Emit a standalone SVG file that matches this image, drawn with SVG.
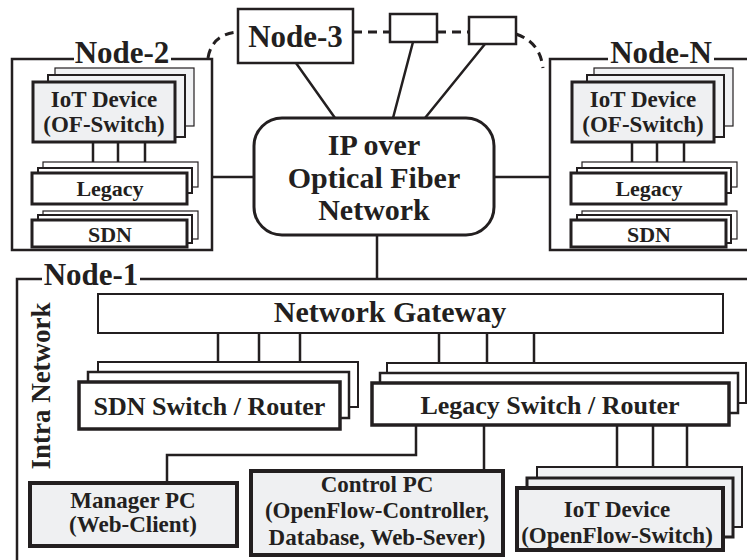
<svg xmlns="http://www.w3.org/2000/svg" width="747" height="560" viewBox="0 0 747 560">
<style>
.t{font-family:"Liberation Serif","Times New Roman",serif;font-weight:bold;fill:#231f20;text-anchor:middle}
.fr{fill:none;stroke:#231f20;stroke-width:2.5}
.ln{fill:none;stroke:#231f20;stroke-width:2.5}
.dash{fill:none;stroke:#231f20;stroke-width:3;stroke-dasharray:9 6}
.b1{fill:#fff;stroke:#231f20;stroke-width:1.2}
.b2{fill:#fff;stroke:#231f20;stroke-width:2}
.b3{fill:#fff;stroke:#231f20;stroke-width:3}
.g1{fill:#f1f2f4;stroke:#231f20;stroke-width:1.2}
.g2{fill:#f1f2f4;stroke:#231f20;stroke-width:2}
.g3{fill:#eff0f2;stroke:#231f20;stroke-width:3}
.g4{fill:#eff0f2;stroke:#231f20;stroke-width:4}
.w2{fill:#fff;stroke:#231f20;stroke-width:2}
.w25{fill:#fff;stroke:#231f20;stroke-width:2.5}
.w35{fill:#fff;stroke:#231f20;stroke-width:3.5}
</style>
<rect width="747" height="560" fill="#fff"/>

<g id="connectors">
  <path class="dash" d="M208,58 Q212,34 238,32"/>
  <path class="dash" d="M353,32 H390 M437,32 H469"/>
  <path class="dash" d="M516,34 Q540,42 543,68"/>
  <path class="ln" d="M296,63 L335,118 M413,42 L393,118 M485,44 L425,118"/>
  <path class="ln" d="M212,177 H254 M494,177 H550 M377,235 V279"/>
  <path class="ln" d="M93,142 V173 M118,142 V168 M145,142 V162"/>
  <path class="ln" d="M632,142 V173 M657,142 V168 M684,142 V162"/>
  <path class="ln" d="M218,333 V362 M259,333 V372 M300,333 V382 M439,333 V383 M487,333 V373 M534,333 V363"/>
  <path class="ln" d="M416,425 V455 H167 V483 M484,425 V471 M617,425 V488 M653,425 V478 M687,425 V467"/>
</g>

<g id="node-3">
  <rect x="238" y="9" width="115" height="54" class="w25"/>
  <text class="t" x="295.5" y="47" font-size="31">Node-3</text>
</g>
<g id="relay-1"><rect x="390" y="14" width="47" height="28" class="w25"/></g>
<g id="relay-2"><rect x="469" y="17" width="47" height="27" class="w25"/></g>

<g id="ip-network">
  <rect x="254" y="118" width="240" height="117" rx="28" class="b3"/>
  <text class="t" x="374" y="155" font-size="30">IP over</text>
  <text class="t" x="374" y="188" font-size="30">Optical Fiber</text>
  <text class="t" x="374" y="220" font-size="30">Network</text>
</g>

<g id="node-2">
  <path class="fr" d="M74,59 H12 V250 H212 V59 H171"/>
  <text class="t" x="122" y="63" font-size="31">Node-2</text>
  <rect x="55" y="68" width="139" height="58" class="g1"/>
  <rect x="48" y="75" width="137" height="62" class="g2"/>
  <rect x="33" y="82" width="142" height="60" class="g3"/>
  <text class="t" x="104" y="107" font-size="23">IoT Device</text>
  <text class="t" x="104" y="132" font-size="23">(OF-Switch)</text>
  <rect x="43" y="162" width="155" height="25" class="b1"/>
  <rect x="38" y="168" width="154" height="25" class="b2"/>
  <rect x="32" y="173" width="155" height="31" class="b3"/>
  <text class="t" x="110" y="196" font-size="22">Legacy</text>
  <rect x="43" y="211" width="155" height="28" class="b1"/>
  <rect x="38" y="215" width="154" height="28" class="b2"/>
  <rect x="32" y="220" width="155" height="27" class="b3"/>
  <text class="t" x="110" y="242" font-size="22">SDN</text>
</g>

<g id="node-n">
  <path class="fr" d="M608,59 H550 V250 H750 M714,59 H750"/>
  <text class="t" x="661" y="63" font-size="31">Node-N</text>
  <g transform="translate(539,0)">
    <rect x="55" y="68" width="139" height="58" class="g1"/>
    <rect x="48" y="75" width="137" height="62" class="g2"/>
    <rect x="33" y="82" width="142" height="60" class="g3"/>
    <text class="t" x="104" y="107" font-size="23">IoT Device</text>
    <text class="t" x="104" y="132" font-size="23">(OF-Switch)</text>
    <rect x="43" y="162" width="155" height="25" class="b1"/>
    <rect x="38" y="168" width="154" height="25" class="b2"/>
    <rect x="32" y="173" width="155" height="31" class="b3"/>
    <text class="t" x="110" y="196" font-size="22">Legacy</text>
    <rect x="43" y="211" width="155" height="28" class="b1"/>
    <rect x="38" y="215" width="154" height="28" class="b2"/>
    <rect x="32" y="220" width="155" height="27" class="b3"/>
    <text class="t" x="110" y="242" font-size="22">SDN</text>
  </g>
</g>

<g id="node-1">
  <path class="fr" d="M42,279 H17 V562 M140,279 H750"/>
  <text class="t" x="91" y="285" font-size="31">Node-1</text>
  <text class="t" font-size="27" transform="translate(50,386) rotate(-90)">Intra Network</text>
</g>

<g id="network-gateway">
  <rect x="98" y="294" width="625" height="39" class="w2"/>
  <text class="t" x="390" y="322" font-size="30">Network Gateway</text>
</g>

<g id="sdn-switch">
  <rect x="98" y="362" width="260" height="45" class="w2"/>
  <rect x="88" y="372" width="261" height="46" class="w25"/>
  <rect x="79" y="382" width="261" height="47" class="w35"/>
  <text class="t" x="209.5" y="415" font-size="26">SDN Switch / Router</text>
</g>

<g id="legacy-switch">
  <rect x="387" y="363" width="359" height="40" class="w2"/>
  <rect x="380" y="373" width="358" height="40" class="w25"/>
  <rect x="372" y="383" width="357" height="42" class="w35"/>
  <text class="t" x="550" y="414" font-size="26">Legacy Switch / Router</text>
</g>

<g id="manager-pc">
  <rect x="30" y="483" width="207" height="63" class="g4"/>
  <text class="t" x="133" y="508" font-size="23">Manager PC</text>
  <text class="t" x="133" y="532" font-size="23">(Web-Client)</text>
</g>

<g id="control-pc">
  <rect x="251" y="471" width="252" height="84" class="g4"/>
  <text class="t" x="377" y="492" font-size="23">Control PC</text>
  <text class="t" x="377" y="518" font-size="23">(OpenFlow-Controller,</text>
  <text class="t" x="377" y="545" font-size="23">Database, Web-Sever)</text>
</g>

<g id="iot-device">
  <rect x="537" y="467" width="205" height="60" class="g2"/>
  <rect x="527" y="478" width="206" height="59" class="g3"/>
  <rect x="517" y="488" width="206" height="62" class="g4"/>
  <text class="t" x="617" y="517" font-size="23">IoT Device</text>
  <text class="t" x="617" y="543" font-size="23">(OpenFlow-Switch)</text>
</g>
</svg>
